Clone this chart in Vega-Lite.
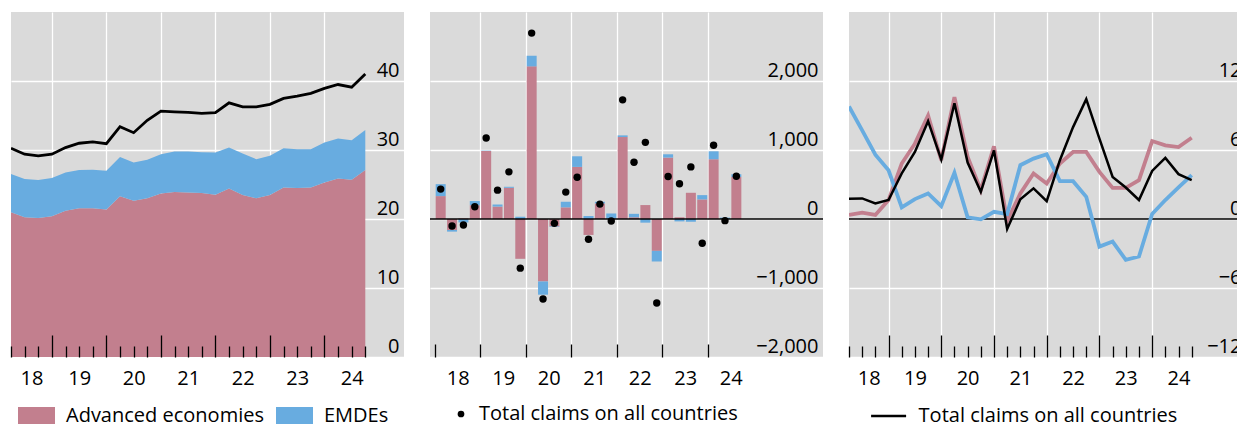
{
  "$schema": "https://vega.github.io/schema/vega-lite/v6.json",
  "padding": {"left": 10, "top": 12, "right": 0, "bottom": 0},
  "autosize": {"type": "pad"},
  "background": "white",
  "spacing": 26,
  "bounds": "flush",
  "config": {
    "font": "Open Sans",
    "view": {"fill": "#DADADA", "stroke": null},
    "axis": {"labelFont": "Open Sans", "labelFontSize": 20, "labelColor": "#000", "gridColor": "#FFFFFF", "gridWidth": 1.3, "domain": false, "title": null, "tickColor": "#000", "tickWidth": 1.3},
    "legend": {"labelFont": "Open Sans", "labelFontSize": 20, "labelColor": "#000", "labelLimit": 0, "padding": 0, "title": null, "orient": "none", "direction": "horizontal"}
  },
  "resolve": {"scale": {"x": "independent", "y": "independent", "color": "independent"}, "legend": {"color": "independent"}},
  "datasets": {
    "stock": [
      {"t": 2018.25, "s": "Advanced economies", "v": 20.97}, {"t": 2018.25, "s": "EMDEs", "v": 5.54},
      {"t": 2018.5, "s": "Advanced economies", "v": 20.25}, {"t": 2018.5, "s": "EMDEs", "v": 5.54},
      {"t": 2018.75, "s": "Advanced economies", "v": 20.16}, {"t": 2018.75, "s": "EMDEs", "v": 5.48},
      {"t": 2019.0, "s": "Advanced economies", "v": 20.39}, {"t": 2019.0, "s": "EMDEs", "v": 5.54},
      {"t": 2019.25, "s": "Advanced economies", "v": 21.21}, {"t": 2019.25, "s": "EMDEs", "v": 5.53},
      {"t": 2019.5, "s": "Advanced economies", "v": 21.54}, {"t": 2019.5, "s": "EMDEs", "v": 5.55},
      {"t": 2019.75, "s": "Advanced economies", "v": 21.54}, {"t": 2019.75, "s": "EMDEs", "v": 5.59},
      {"t": 2020.0, "s": "Advanced economies", "v": 21.36}, {"t": 2020.0, "s": "EMDEs", "v": 5.62},
      {"t": 2020.25, "s": "Advanced economies", "v": 23.28}, {"t": 2020.25, "s": "EMDEs", "v": 5.72},
      {"t": 2020.5, "s": "Advanced economies", "v": 22.66}, {"t": 2020.5, "s": "EMDEs", "v": 5.52},
      {"t": 2020.75, "s": "Advanced economies", "v": 22.99}, {"t": 2020.75, "s": "EMDEs", "v": 5.58},
      {"t": 2021.0, "s": "Advanced economies", "v": 23.71}, {"t": 2021.0, "s": "EMDEs", "v": 5.68},
      {"t": 2021.25, "s": "Advanced economies", "v": 23.91}, {"t": 2021.25, "s": "EMDEs", "v": 5.86},
      {"t": 2021.5, "s": "Advanced economies", "v": 23.85}, {"t": 2021.5, "s": "EMDEs", "v": 5.92},
      {"t": 2021.75, "s": "Advanced economies", "v": 23.77}, {"t": 2021.75, "s": "EMDEs", "v": 5.91},
      {"t": 2022.0, "s": "Advanced economies", "v": 23.52}, {"t": 2022.0, "s": "EMDEs", "v": 6.10},
      {"t": 2022.25, "s": "Advanced economies", "v": 24.43}, {"t": 2022.25, "s": "EMDEs", "v": 5.92},
      {"t": 2022.5, "s": "Advanced economies", "v": 23.48}, {"t": 2022.5, "s": "EMDEs", "v": 6.00},
      {"t": 2022.75, "s": "Advanced economies", "v": 22.99}, {"t": 2022.75, "s": "EMDEs", "v": 5.68},
      {"t": 2023.0, "s": "Advanced economies", "v": 23.48}, {"t": 2023.0, "s": "EMDEs", "v": 5.67},
      {"t": 2023.25, "s": "Advanced economies", "v": 24.57}, {"t": 2023.25, "s": "EMDEs", "v": 5.69},
      {"t": 2023.5, "s": "Advanced economies", "v": 24.49}, {"t": 2023.5, "s": "EMDEs", "v": 5.63},
      {"t": 2023.75, "s": "Advanced economies", "v": 24.57}, {"t": 2023.75, "s": "EMDEs", "v": 5.55},
      {"t": 2024.0, "s": "Advanced economies", "v": 25.30}, {"t": 2024.0, "s": "EMDEs", "v": 5.77},
      {"t": 2024.25, "s": "Advanced economies", "v": 25.87}, {"t": 2024.25, "s": "EMDEs", "v": 5.78},
      {"t": 2024.5, "s": "Advanced economies", "v": 25.69}, {"t": 2024.5, "s": "EMDEs", "v": 5.72},
      {"t": 2024.75, "s": "Advanced economies", "v": 27.09}, {"t": 2024.75, "s": "EMDEs", "v": 5.81}
    ],
    "stockTotal": [
      {"t": 2018.25, "v": 30.26}, {"t": 2018.5, "v": 29.39}, {"t": 2018.75, "v": 29.15}, {"t": 2019.0, "v": 29.39},
      {"t": 2019.25, "v": 30.35}, {"t": 2019.5, "v": 30.98}, {"t": 2019.75, "v": 31.17}, {"t": 2020.0, "v": 30.92},
      {"t": 2020.25, "v": 33.38}, {"t": 2020.5, "v": 32.51}, {"t": 2020.75, "v": 34.30}, {"t": 2021.0, "v": 35.64},
      {"t": 2021.25, "v": 35.54}, {"t": 2021.5, "v": 35.45}, {"t": 2021.75, "v": 35.31}, {"t": 2022.0, "v": 35.40},
      {"t": 2022.25, "v": 36.84}, {"t": 2022.5, "v": 36.26}, {"t": 2022.75, "v": 36.26}, {"t": 2023.0, "v": 36.61},
      {"t": 2023.25, "v": 37.47}, {"t": 2023.5, "v": 37.81}, {"t": 2023.75, "v": 38.20}, {"t": 2024.0, "v": 38.92},
      {"t": 2024.25, "v": 39.49}, {"t": 2024.5, "v": 39.11}, {"t": 2024.75, "v": 41.02}
    ],
    "flows": [
      {"t": 2018.125, "s": "Advanced economies", "v": 332}, {"t": 2018.125, "s": "EMDEs", "v": 173},
      {"t": 2018.375, "s": "Advanced economies", "v": -159}, {"t": 2018.375, "s": "EMDEs", "v": -24},
      {"t": 2018.625, "s": "Advanced economies", "v": 10}, {"t": 2018.625, "s": "EMDEs", "v": -50},
      {"t": 2018.875, "s": "Advanced economies", "v": 200}, {"t": 2018.875, "s": "EMDEs", "v": 60},
      {"t": 2019.125, "s": "Advanced economies", "v": 986}, {"t": 2019.125, "s": "EMDEs", "v": 5},
      {"t": 2019.375, "s": "Advanced economies", "v": 180}, {"t": 2019.375, "s": "EMDEs", "v": 30},
      {"t": 2019.625, "s": "Advanced economies", "v": 452}, {"t": 2019.625, "s": "EMDEs", "v": 15},
      {"t": 2019.875, "s": "Advanced economies", "v": -577}, {"t": 2019.875, "s": "EMDEs", "v": 33},
      {"t": 2020.125, "s": "Advanced economies", "v": 2212}, {"t": 2020.125, "s": "EMDEs", "v": 154},
      {"t": 2020.375, "s": "Advanced economies", "v": -905}, {"t": 2020.375, "s": "EMDEs", "v": -192},
      {"t": 2020.625, "s": "Advanced economies", "v": -110}, {"t": 2020.625, "s": "EMDEs", "v": -5},
      {"t": 2020.875, "s": "Advanced economies", "v": 169}, {"t": 2020.875, "s": "EMDEs", "v": 81},
      {"t": 2021.125, "s": "Advanced economies", "v": 755}, {"t": 2021.125, "s": "EMDEs", "v": 154},
      {"t": 2021.375, "s": "Advanced economies", "v": -231}, {"t": 2021.375, "s": "EMDEs", "v": 43},
      {"t": 2021.625, "s": "Advanced economies", "v": 226}, {"t": 2021.625, "s": "EMDEs", "v": 24},
      {"t": 2021.875, "s": "Advanced economies", "v": 5}, {"t": 2021.875, "s": "EMDEs", "v": 75},
      {"t": 2022.125, "s": "Advanced economies", "v": 1188}, {"t": 2022.125, "s": "EMDEs", "v": 24},
      {"t": 2022.375, "s": "Advanced economies", "v": 25}, {"t": 2022.375, "s": "EMDEs", "v": 50},
      {"t": 2022.625, "s": "Advanced economies", "v": 202}, {"t": 2022.625, "s": "EMDEs", "v": -53},
      {"t": 2022.875, "s": "Advanced economies", "v": -462}, {"t": 2022.875, "s": "EMDEs", "v": -154},
      {"t": 2023.125, "s": "Advanced economies", "v": 890}, {"t": 2023.125, "s": "EMDEs", "v": 48},
      {"t": 2023.375, "s": "Advanced economies", "v": 25}, {"t": 2023.375, "s": "EMDEs", "v": -35},
      {"t": 2023.625, "s": "Advanced economies", "v": 380}, {"t": 2023.625, "s": "EMDEs", "v": -40},
      {"t": 2023.875, "s": "Advanced economies", "v": 284}, {"t": 2023.875, "s": "EMDEs", "v": 62},
      {"t": 2024.125, "s": "Advanced economies", "v": 866}, {"t": 2024.125, "s": "EMDEs", "v": 115},
      {"t": 2024.375, "s": "Advanced economies", "v": 0}, {"t": 2024.375, "s": "EMDEs", "v": 20},
      {"t": 2024.625, "s": "Advanced economies", "v": 610}, {"t": 2024.625, "s": "EMDEs", "v": 39}
    ],
    "flowTotal": [
      {"t": 2018.125, "s": "Total claims on all countries", "v": 433}, {"t": 2018.375, "s": "Total claims on all countries", "v": -101},
      {"t": 2018.625, "s": "Total claims on all countries", "v": -87}, {"t": 2018.875, "s": "Total claims on all countries", "v": 178},
      {"t": 2019.125, "s": "Total claims on all countries", "v": 1173}, {"t": 2019.375, "s": "Total claims on all countries", "v": 418},
      {"t": 2019.625, "s": "Total claims on all countries", "v": 683}, {"t": 2019.875, "s": "Total claims on all countries", "v": -712},
      {"t": 2020.125, "s": "Total claims on all countries", "v": 2694}, {"t": 2020.375, "s": "Total claims on all countries", "v": -1159},
      {"t": 2020.625, "s": "Total claims on all countries", "v": -63}, {"t": 2020.875, "s": "Total claims on all countries", "v": 390},
      {"t": 2021.125, "s": "Total claims on all countries", "v": 606}, {"t": 2021.375, "s": "Total claims on all countries", "v": -293},
      {"t": 2021.625, "s": "Total claims on all countries", "v": 216}, {"t": 2021.875, "s": "Total claims on all countries", "v": -29},
      {"t": 2022.125, "s": "Total claims on all countries", "v": 1727}, {"t": 2022.375, "s": "Total claims on all countries", "v": 822},
      {"t": 2022.625, "s": "Total claims on all countries", "v": 1111}, {"t": 2022.875, "s": "Total claims on all countries", "v": -1217},
      {"t": 2023.125, "s": "Total claims on all countries", "v": 616}, {"t": 2023.375, "s": "Total claims on all countries", "v": 510},
      {"t": 2023.625, "s": "Total claims on all countries", "v": 755}, {"t": 2023.875, "s": "Total claims on all countries", "v": -351},
      {"t": 2024.125, "s": "Total claims on all countries", "v": 1068}, {"t": 2024.375, "s": "Total claims on all countries", "v": -24},
      {"t": 2024.625, "s": "Total claims on all countries", "v": 620}
    ],
    "growth": [
      {"t": 2018.25, "s": "Advanced economies", "v": 0.35}, {"t": 2018.25, "s": "EMDEs", "v": 9.78},
      {"t": 2018.5, "s": "Advanced economies", "v": 0.55}, {"t": 2018.5, "s": "EMDEs", "v": 7.71},
      {"t": 2018.75, "s": "Advanced economies", "v": 0.35}, {"t": 2018.75, "s": "EMDEs", "v": 5.60},
      {"t": 2019.0, "s": "Advanced economies", "v": 1.65}, {"t": 2019.0, "s": "EMDEs", "v": 4.24},
      {"t": 2019.25, "s": "Advanced economies", "v": 4.82}, {"t": 2019.25, "s": "EMDEs", "v": 1.01},
      {"t": 2019.5, "s": "Advanced economies", "v": 6.55}, {"t": 2019.5, "s": "EMDEs", "v": 1.73},
      {"t": 2019.75, "s": "Advanced economies", "v": 9.00}, {"t": 2019.75, "s": "EMDEs", "v": 2.22},
      {"t": 2020.0, "s": "Advanced economies", "v": 5.11}, {"t": 2020.0, "s": "EMDEs", "v": 1.12},
      {"t": 2020.25, "s": "Advanced economies", "v": 10.59}, {"t": 2020.25, "s": "EMDEs", "v": 4.01},
      {"t": 2020.5, "s": "Advanced economies", "v": 5.39}, {"t": 2020.5, "s": "EMDEs", "v": 0.15},
      {"t": 2020.75, "s": "Advanced economies", "v": 2.51}, {"t": 2020.75, "s": "EMDEs", "v": -0.03},
      {"t": 2021.0, "s": "Advanced economies", "v": 6.32}, {"t": 2021.0, "s": "EMDEs", "v": 0.63},
      {"t": 2021.25, "s": "Advanced economies", "v": -0.17}, {"t": 2021.25, "s": "EMDEs", "v": 0.43},
      {"t": 2021.5, "s": "Advanced economies", "v": 2.22}, {"t": 2021.5, "s": "EMDEs", "v": 4.68},
      {"t": 2021.75, "s": "Advanced economies", "v": 3.96}, {"t": 2021.75, "s": "EMDEs", "v": 5.25},
      {"t": 2022.0, "s": "Advanced economies", "v": 3.09}, {"t": 2022.0, "s": "EMDEs", "v": 5.63},
      {"t": 2022.25, "s": "Advanced economies", "v": 4.82}, {"t": 2022.25, "s": "EMDEs", "v": 3.29},
      {"t": 2022.5, "s": "Advanced economies", "v": 5.83}, {"t": 2022.5, "s": "EMDEs", "v": 3.29},
      {"t": 2022.75, "s": "Advanced economies", "v": 5.83}, {"t": 2022.75, "s": "EMDEs", "v": 1.93},
      {"t": 2023.0, "s": "Advanced economies", "v": 4.10}, {"t": 2023.0, "s": "EMDEs", "v": -2.40},
      {"t": 2023.25, "s": "Advanced economies", "v": 2.71}, {"t": 2023.25, "s": "EMDEs", "v": -1.96},
      {"t": 2023.5, "s": "Advanced economies", "v": 2.71}, {"t": 2023.5, "s": "EMDEs", "v": -3.55},
      {"t": 2023.75, "s": "Advanced economies", "v": 3.38}, {"t": 2023.75, "s": "EMDEs", "v": -3.26},
      {"t": 2024.0, "s": "Advanced economies", "v": 6.78}, {"t": 2024.0, "s": "EMDEs", "v": 0.43},
      {"t": 2024.25, "s": "Advanced economies", "v": 6.41}, {"t": 2024.25, "s": "EMDEs", "v": 1.65},
      {"t": 2024.5, "s": "Advanced economies", "v": 6.26}, {"t": 2024.5, "s": "EMDEs", "v": 2.74},
      {"t": 2024.75, "s": "Advanced economies", "v": 7.07}, {"t": 2024.75, "s": "EMDEs", "v": 3.81}
    ],
    "growthTotal": [
      {"t": 2018.25, "s": "Total claims on all countries", "v": 1.77}, {"t": 2018.5, "s": "Total claims on all countries", "v": 1.79},
      {"t": 2018.75, "s": "Total claims on all countries", "v": 1.36}, {"t": 2019.0, "s": "Total claims on all countries", "v": 1.65},
      {"t": 2019.25, "s": "Total claims on all countries", "v": 3.96}, {"t": 2019.5, "s": "Total claims on all countries", "v": 5.83},
      {"t": 2019.75, "s": "Total claims on all countries", "v": 8.51}, {"t": 2020.0, "s": "Total claims on all countries", "v": 5.17},
      {"t": 2020.25, "s": "Total claims on all countries", "v": 10.07}, {"t": 2020.5, "s": "Total claims on all countries", "v": 4.91},
      {"t": 2020.75, "s": "Total claims on all countries", "v": 2.36}, {"t": 2021.0, "s": "Total claims on all countries", "v": 5.97},
      {"t": 2021.25, "s": "Total claims on all countries", "v": -0.87}, {"t": 2021.5, "s": "Total claims on all countries", "v": 1.71},
      {"t": 2021.75, "s": "Total claims on all countries", "v": 2.66}, {"t": 2022.0, "s": "Total claims on all countries", "v": 1.55},
      {"t": 2022.25, "s": "Total claims on all countries", "v": 5.11}, {"t": 2022.5, "s": "Total claims on all countries", "v": 7.99},
      {"t": 2022.75, "s": "Total claims on all countries", "v": 10.42}, {"t": 2023.0, "s": "Total claims on all countries", "v": 6.99},
      {"t": 2023.25, "s": "Total claims on all countries", "v": 3.66}, {"t": 2023.5, "s": "Total claims on all countries", "v": 2.74},
      {"t": 2023.75, "s": "Total claims on all countries", "v": 1.65}, {"t": 2024.0, "s": "Total claims on all countries", "v": 4.18},
      {"t": 2024.25, "s": "Total claims on all countries", "v": 5.31}, {"t": 2024.5, "s": "Total claims on all countries", "v": 3.90},
      {"t": 2024.75, "s": "Total claims on all countries", "v": 3.38}
    ],
    "zero": [{"z": 0}]
  },
  "hconcat": [
    {
      "width": 393,
      "height": 345,
      "resolve": {"axis": {"x": "independent"}},
      "layer": [
        {
          "data": {"name": "stock"},
          "mark": {"type": "area", "interpolate": "linear"},
          "encoding": {
            "x": {"field": "t", "type": "quantitative",
              "scale": {"domain": [2018.25, 2025.46], "nice": false, "zero": false},
              "axis": {"orient": "bottom", "values": [2019, 2020, 2021, 2022, 2023, 2024], "grid": true, "labels": false, "ticks": false, "zindex": 0}
            },
            "y": {"field": "v", "type": "quantitative", "stack": "zero",
              "scale": {"domain": [0, 50], "nice": false},
              "axis": {"orient": "right", "values": [0, 10, 20, 30, 40], "grid": true, "ticks": false, "labelAlign": "right", "labelPadding": -5, "labelBaseline": "alphabetic", "labelOffset": -5}
            },
            "color": {"field": "s", "type": "nominal",
              "scale": {"domain": ["Advanced economies", "EMDEs"], "range": ["#C27F8E", "#68ACE0"]},
              "legend": {"symbolType": "M-1,-0.47H1V0.47H-1Z", "symbolSize": 1369, "symbolStrokeWidth": 0, "labelOffset": 11, "columnPadding": 12, "legendX": 7, "legendY": 385}
            },
            "order": {"field": "s", "sort": "ascending"}
          }
        },
        {
          "data": {"name": "stockTotal"},
          "mark": {"type": "line", "color": "#000000", "strokeWidth": 2.8, "clip": true},
          "encoding": {
            "x": {"field": "t", "type": "quantitative",
              "axis": {
                "orient": "bottom",
                "values": [2018.25, 2018.5, 2018.625, 2018.75, 2019, 2019.25, 2019.5, 2019.75, 2020, 2020.25, 2020.5, 2020.75, 2021, 2021.25, 2021.5, 2021.75, 2022, 2022.25, 2022.5, 2022.75, 2023, 2023.25, 2023.5, 2023.75, 2024, 2024.25, 2024.5, 2024.75],
                "grid": false, "zindex": 1,
                "tickSize": -22,
                "tickDash": {"condition": {"test": "datum.value % 1 != 0", "value": [11, 100]}, "value": [100, 0]},
                "tickOpacity": {"condition": {"test": "datum.value == 2018.625", "value": 0}, "value": 1},
                "labelExpr": "datum.value == 2018.625 ? '18' : ((datum.value % 1 == 0.5 && datum.value > 2019) ? '' + (floor(datum.value) - 2000) : '')",
                "labelOverlap": false, "labelFlush": false,
                "labelPadding": 33
              }
            },
            "y": {"field": "v", "type": "quantitative"}
          }
        }
      ]
    },
    {
      "width": 393,
      "height": 345,
      "resolve": {"axis": {"x": "independent"}},
      "layer": [
        {
          "data": {"name": "flows"},
          "mark": {"type": "bar", "width": 10},
          "encoding": {
            "x": {"field": "t", "type": "quantitative",
              "scale": {"domain": [2018.0, 2026.42], "nice": false, "zero": false},
              "axis": {"orient": "bottom", "values": [2019, 2020, 2021, 2022, 2023, 2024], "grid": true, "labels": false, "ticks": false, "zindex": 0}
            },
            "y": {"field": "v", "type": "quantitative", "stack": "zero",
              "scale": {"domain": [-2000, 3000], "nice": false},
              "axis": {"orient": "right", "values": [-2000, -1000, 0, 1000, 2000], "format": ",d", "grid": true, "ticks": false, "labelAlign": "right", "labelPadding": -5, "labelBaseline": "alphabetic", "labelOffset": -5}
            },
            "color": {"field": "s", "type": "nominal",
              "scale": {"domain": ["Advanced economies", "EMDEs", "Total claims on all countries"], "range": ["#C27F8E", "#68ACE0", "#000000"]},
              "legend": {"values": ["Total claims on all countries"], "symbolType": "circle", "symbolSize": 45, "symbolStrokeWidth": 0, "labelOffset": 8, "legendX": 21, "legendY": 392}
            },
            "order": {"field": "s", "sort": "ascending"}
          }
        },
        {
          "data": {"name": "zero"},
          "mark": {"type": "rule", "color": "#000000", "strokeWidth": 1.4},
          "encoding": {"y": {"field": "z", "type": "quantitative"}}
        },
        {
          "data": {"name": "flowTotal"},
          "mark": {"type": "circle", "size": 55, "opacity": 1},
          "encoding": {
            "x": {"field": "t", "type": "quantitative",
              "axis": {
                "orient": "bottom",
                "values": [2018, 2018.5, 2019, 2019.5, 2020, 2020.5, 2021, 2021.5, 2022, 2022.5, 2023, 2023.5, 2024, 2024.5],
                "grid": false, "zindex": 1,
                "tickSize": -13,
                "tickOpacity": {"condition": {"test": "datum.value % 1 == 0", "value": 1}, "value": 0},
                "labelExpr": "datum.value % 1 == 0.5 ? '' + (floor(datum.value) - 2000) : ''",
                "labelOverlap": false, "labelFlush": false,
                "labelPadding": 24
              }
            },
            "y": {"field": "v", "type": "quantitative"},
            "color": {"field": "s", "type": "nominal"}
          }
        }
      ]
    },
    {
      "width": 397,
      "height": 345,
      "resolve": {"axis": {"x": "independent"}},
      "layer": [
        {
          "data": {"name": "zero"},
          "mark": {"type": "rule", "color": "#000000", "strokeWidth": 1.4},
          "encoding": {"y": {"field": "z", "type": "quantitative"}}
        },
        {
          "data": {"name": "growth"},
          "mark": {"type": "line", "strokeWidth": 3.8, "clip": true},
          "encoding": {
            "x": {"field": "t", "type": "quantitative",
              "scale": {"domain": [2018.25, 2025.78], "nice": false, "zero": false},
              "axis": {"orient": "bottom", "values": [2019, 2020, 2021, 2022, 2023, 2024], "grid": true, "labels": false, "ticks": false, "zindex": 0}
            },
            "y": {"field": "v", "type": "quantitative",
              "scale": {"domain": [-12, 18], "nice": false},
              "axis": {"orient": "right", "values": [-12, -6, 0, 6, 12], "grid": true, "ticks": false, "labelAlign": "right", "labelPadding": -5, "labelBaseline": "alphabetic", "labelOffset": -5}
            },
            "color": {"field": "s", "type": "nominal",
              "scale": {"domain": ["Advanced economies", "EMDEs", "Total claims on all countries"], "range": ["#C27F8E", "#68ACE0", "#000000"]},
              "legend": {"values": ["Total claims on all countries"], "symbolType": "stroke", "symbolSize": 1225, "symbolStrokeWidth": 2.6, "labelOffset": 11, "legendX": 20.6, "legendY": 385}
            }
          }
        },
        {
          "data": {"name": "growthTotal"},
          "mark": {"type": "line", "strokeWidth": 2.5, "clip": true},
          "encoding": {
            "x": {"field": "t", "type": "quantitative",
              "axis": {
                "orient": "bottom",
                "values": [2018.25, 2018.5, 2018.625, 2018.75, 2019, 2019.25, 2019.5, 2019.75, 2020, 2020.25, 2020.5, 2020.75, 2021, 2021.25, 2021.5, 2021.75, 2022, 2022.25, 2022.5, 2022.75, 2023, 2023.25, 2023.5, 2023.75, 2024, 2024.25, 2024.5, 2024.75],
                "grid": false, "zindex": 1,
                "tickSize": -22,
                "tickDash": {"condition": {"test": "datum.value % 1 != 0", "value": [11, 100]}, "value": [100, 0]},
                "tickOpacity": {"condition": {"test": "datum.value == 2018.625", "value": 0}, "value": 1},
                "labelExpr": "datum.value == 2018.625 ? '18' : ((datum.value % 1 == 0.5 && datum.value > 2019) ? '' + (floor(datum.value) - 2000) : '')",
                "labelOverlap": false, "labelFlush": false,
                "labelPadding": 33
              }
            },
            "y": {"field": "v", "type": "quantitative"},
            "color": {"field": "s", "type": "nominal"}
          }
        }
      ]
    }
  ]
}
